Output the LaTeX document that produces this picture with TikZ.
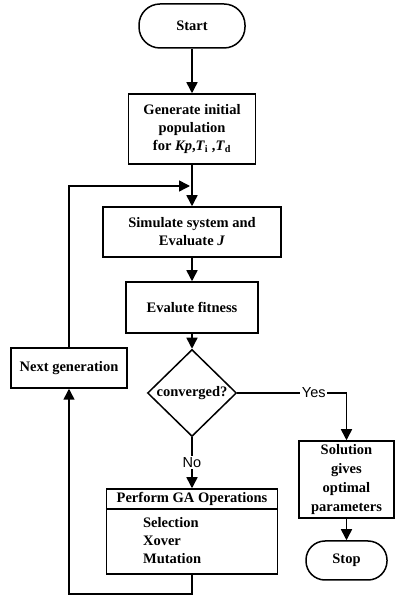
\documentclass[tikz,border=0pt]{standalone}
\usepackage{fontspec}
\setmainfont{Liberation Serif}
\newfontfamily\yesnofont{Liberation Sans}
\usetikzlibrary{arrows.meta,shapes.geometric}

\begin{document}
\begin{tikzpicture}[x=1pt, y=1pt, line width=1.5pt,
  font=\fontsize{14.5}{18}\selectfont\bfseries,
  box/.style={draw, align=center, inner sep=2pt},
  term/.style={draw, rounded corners=19pt},
  arr/.style={-{Triangle[length=11pt,width=11pt]}},
  lbl/.style={fill=white, inner sep=1.5pt, font=\fontsize{14.5}{18}\selectfont\yesnofont}]
  \useasboundingbox[fill=white] (0,0) rectangle (406,608);
  \node[term, minimum width=106, minimum height=44, rounded corners=21pt] (start) at (192,582) {Start};
  \node[box, minimum width=127, minimum height=70] (generate) at (192,479) {Generate initial\\population\\for \textit{Kp},\textit{T}\textsubscript{i} ,\textit{T}\textsubscript{d}};
  \node[box, minimum width=178, minimum height=50] (simulate) at (192,376) {Simulate system and\\Evaluate \textit{J}};
  \node[box, minimum width=132, minimum height=51] (fitness) at (192,300.5) {Evalute fitness};
  \node[draw, diamond, aspect=1, inner sep=0pt, minimum width=89, minimum height=87] (converged) at (192,215) {converged?};
  \node[box, minimum width=116, minimum height=40] (nextgen) at (69,240) {Next generation};
  \node[box, minimum width=95, minimum height=77] (solution) at (346.5,128.5) {Solution\\[1pt]gives\\[1pt]optimal\\[1pt]parameters};
  \node[term, minimum width=81, minimum height=39] (stop) at (346.5,47.5) {Stop};
  \node[draw, minimum width=171, minimum height=85] (gaops) at (192,76.5) {};
  \node (gatitle) at (192,109) {Perform GA Operations};
  \draw ([yshift=-21pt]gaops.north west) -- ([yshift=-21pt]gaops.north east);
  \node[anchor=west, align=left] (gaitems) at (139,67) {Selection\\Xover\\Mutation};
  \coordinate (loopin) at (190,422);
  \coordinate (gaout) at (192,14);
  \draw[arr] (start) -- (generate);
  \draw[arr] (generate) -- (simulate);
  \draw[arr] (simulate) -- (fitness);
  \draw[arr] (fitness) -- (converged);
  \draw[arr] (nextgen) |- (loopin);
  \draw[arr] (converged) -| node[lbl, pos=0.35] {Yes} (solution);
  \draw[arr] (converged) -- node[lbl] {No} (gaops);
  \draw[arr] (solution) -- (stop);
  \draw[arr] (gaops) -- (gaout) -| (nextgen);
\end{tikzpicture}
\end{document}
